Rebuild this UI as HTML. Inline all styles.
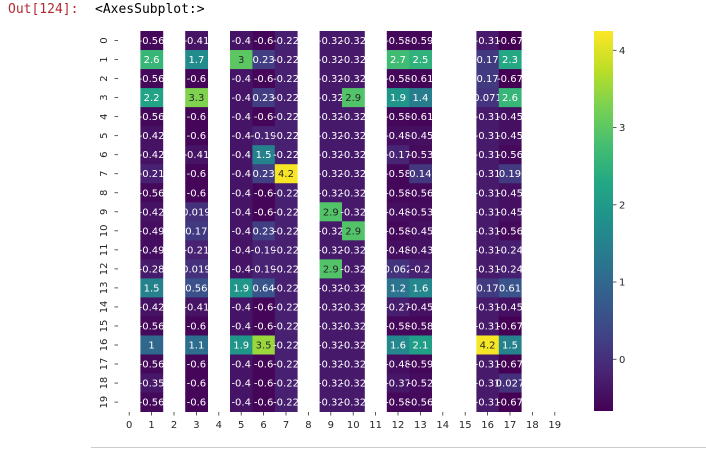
<!DOCTYPE html>
<html><head><meta charset="utf-8">
<style>
body{margin:0;width:706px;height:449px;background:#fff;overflow:hidden;position:relative;font-family:"DejaVu Sans","Liberation Sans",sans-serif;}
#out{position:absolute;left:8px;top:2px;font-family:"DejaVu Sans Mono","Liberation Mono",monospace;font-size:13px;color:#b22b31;}
#repr{position:absolute;left:95px;top:2px;font-family:"DejaVu Sans Mono","Liberation Mono",monospace;font-size:13px;color:#000;}
#rule{position:absolute;left:91px;top:447px;width:615px;height:1px;background:#ccc;}
</style></head><body>
<div id="out">Out[124]:</div>
<div id="repr">&lt;AxesSubplot:&gt;</div>
<svg id="chart" width="706" height="449" style="position:absolute;left:0;top:0"></svg>
<div id="rule"></div>
<script>
const rowLabels=["0","1","2","3","4","5","6","7","8","9","10","11","12","13","14","15","16","17","18","19"];
const colLabels=["0","1","2","3","4","5","6","7","8","9","10","11","12","13","14","15","16","17","18","19"];
const colorbarTicks=[0,1,2,3,4];
const vMin=-0.67, vMax=4.25;
const col1=[-0.56,2.6,-0.56,2.2,-0.56,-0.42,-0.42,-0.21,-0.56,-0.42,-0.49,-0.49,-0.28,1.5,-0.42,-0.56,1,-0.56,-0.35,-0.56];
const col3=[-0.41,1.7,-0.6,3.3,-0.6,-0.6,-0.41,-0.6,-0.6,0.019,0.17,-0.21,0.019,0.56,-0.41,-0.6,1.1,-0.6,-0.6,-0.6];
const col5=[-0.4,3,-0.4,-0.4,-0.4,-0.4,-0.4,-0.4,-0.4,-0.4,-0.4,-0.4,-0.4,1.9,-0.4,-0.4,1.9,-0.4,-0.4,-0.4];
const col6=[-0.6,0.23,-0.6,0.23,-0.6,-0.19,1.5,0.23,-0.6,-0.6,0.23,-0.19,-0.19,0.64,-0.6,-0.6,3.5,-0.6,-0.6,-0.6];
const col7=[-0.22,-0.22,-0.22,-0.22,-0.22,-0.22,-0.22,4.2,-0.22,-0.22,-0.22,-0.22,-0.22,-0.22,-0.22,-0.22,-0.22,-0.22,-0.22,-0.22];
const col9=[-0.32,-0.32,-0.32,-0.32,-0.32,-0.32,-0.32,-0.32,-0.32,2.9,-0.32,-0.32,2.9,-0.32,-0.32,-0.32,-0.32,-0.32,-0.32,-0.32];
const col10=[-0.32,-0.32,-0.32,2.9,-0.32,-0.32,-0.32,-0.32,-0.32,-0.32,2.9,-0.32,-0.32,-0.32,-0.32,-0.32,-0.32,-0.32,-0.32,-0.32];
const col12=[-0.58,2.7,-0.58,1.9,-0.58,-0.48,-0.17,-0.58,-0.58,-0.48,-0.58,-0.48,0.062,1.2,-0.27,-0.58,1.6,-0.48,-0.37,-0.58];
const col13=[-0.59,2.5,-0.61,1.4,-0.61,-0.45,-0.53,0.14,-0.56,-0.53,-0.45,-0.43,-0.2,1.6,-0.45,-0.58,2.1,-0.59,-0.52,-0.56];
const col16=[-0.31,0.17,0.17,0.071,-0.31,-0.31,-0.31,-0.31,-0.31,-0.31,-0.31,-0.31,-0.31,0.17,-0.31,-0.31,4.2,-0.31,-0.31,-0.31];
const col17=[-0.67,2.3,-0.67,2.6,-0.45,-0.45,-0.56,0.19,-0.45,-0.45,-0.56,-0.24,-0.24,0.61,-0.45,-0.67,1.5,-0.67,0.027,-0.67];
const columns={1:col1,3:col3,5:col5,6:col6,7:col7,9:col9,10:col10,12:col12,13:col13,16:col16,17:col17};

const X0=118,CW=22.4,Y0=31,CH=19.03;
const xPos=c=>X0+c*CW, yPos=r=>Y0+r*CH;
const CB_X=594,CB_W=19,CB_TOP=31,CB_BOT=411;
const cbY=v=>CB_BOT-(v-vMin)/(vMax-vMin)*(CB_BOT-CB_TOP);
const VIR=[[68,1,84],[72,35,116],[64,67,135],[52,94,141],[41,120,142],[32,144,140],[34,167,132],[68,190,112],[121,209,81],[189,222,38],[253,231,37]];
function viridis(t){t=Math.max(0,Math.min(1,t));const p=t*(VIR.length-1),i=Math.min(VIR.length-2,Math.floor(p)),f=p-i;
 const c=VIR[i].map((a,k)=>Math.round(a+(VIR[i+1][k]-a)*f));return `rgb(${c[0]},${c[1]},${c[2]})`;}
const NS="http://www.w3.org/2000/svg";
const svg=document.getElementById('chart');
function mk(tag,attrs,parent){const e=document.createElementNS(NS,tag);for(const k in attrs)e.setAttribute(k,attrs[k]);(parent||svg).appendChild(e);return e;}
function fmt(v){return String(v);}
for(const c in columns){const vals=columns[c];
 vals.forEach((v,r)=>{const t=(v-vMin)/(vMax-vMin);
  const rect=mk('rect',{x:xPos(+c),y:yPos(r),width:CW+0.4,height:CH+0.4,fill:viridis(t)});
  
  
  const tx=mk('text',{x:xPos(+c)+CW/2,y:yPos(r)+CH/2+3.5,'text-anchor':'middle','font-size':'10',fill:t>0.7?'#262626':'#ffffff'});
  tx.textContent=fmt(v);
  
  
 });}
colLabels.forEach((l,i)=>{const x=xPos(i)+CW/2;
 const tk=mk('line',{x1:x,x2:x,y1:412,y2:415.5,stroke:'#333','stroke-width':0.8});
 
 
 const t=mk('text',{x:x,y:428,'text-anchor':'middle','font-size':'10',fill:'#262626'});t.textContent=l;
 
 });
rowLabels.forEach((l,i)=>{const y=yPos(i)+CH/2;
 const tk=mk('line',{x1:114.5,x2:118,y1:y,y2:y,stroke:'#333','stroke-width':0.8});
 
 
 const t=mk('text',{x:107,y:y,'text-anchor':'middle','font-size':'10',fill:'#262626',transform:`rotate(-90 107 ${y})`});t.textContent=l;
 
 });
const defs=mk('defs',{});const g=mk('linearGradient',{id:'cbg',x1:0,y1:1,x2:0,y2:0},defs);
for(let i=0;i<=20;i++)mk('stop',{offset:i/20,'stop-color':viridis(i/20)},g);
const cb=mk('rect',{x:CB_X,y:CB_TOP,width:CB_W,height:CB_BOT-CB_TOP,fill:'url(#cbg)'});


colorbarTicks.forEach(v=>{const y=cbY(v);
 const tk=mk('line',{x1:CB_X+CB_W,x2:CB_X+CB_W+3.5,y1:y,y2:y,stroke:'#333','stroke-width':0.8});
 
 
 const t=mk('text',{x:CB_X+CB_W+6,y:y+3.5,'font-size':'10',fill:'#262626'});t.textContent=String(v);
 
 });
</script>
</body></html>
